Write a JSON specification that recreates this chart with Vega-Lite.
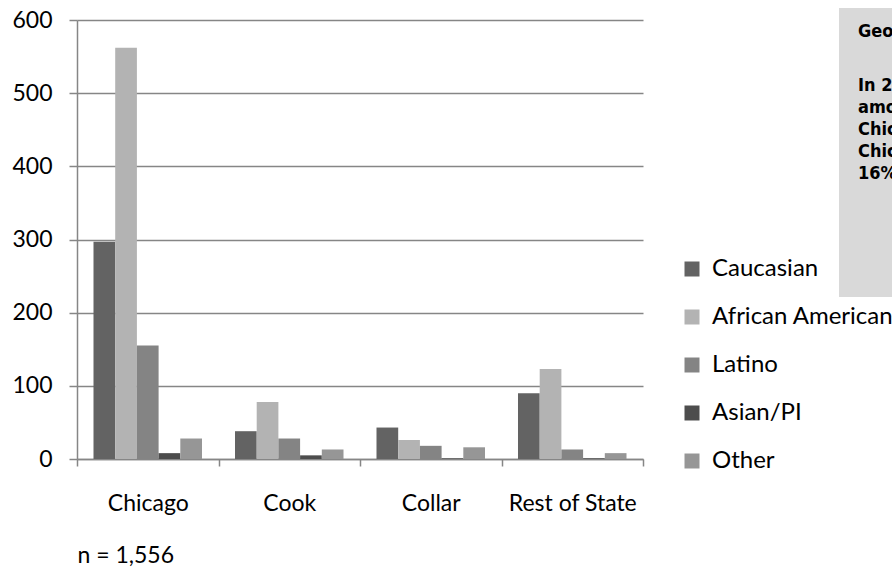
{
  "$schema": "https://vega.github.io/schema/vega-lite/v6.json",
  "padding": {"left": 11, "top": 8, "right": 0, "bottom": 0},
  "background": "white",
  "config": {"view": {"stroke": null}, "font": "Lato"},
  "spacing": 195,
  "hconcat": [
    {
      "width": 566,
      "height": 439,
      "data": {"values": [
        {"region": "Chicago", "race": "Caucasian", "count": 297},
        {"region": "Chicago", "race": "African American", "count": 562},
        {"region": "Chicago", "race": "Latino", "count": 155},
        {"region": "Chicago", "race": "Asian/PI", "count": 8},
        {"region": "Chicago", "race": "Other", "count": 28},
        {"region": "Cook", "race": "Caucasian", "count": 38},
        {"region": "Cook", "race": "African American", "count": 78},
        {"region": "Cook", "race": "Latino", "count": 28},
        {"region": "Cook", "race": "Asian/PI", "count": 5},
        {"region": "Cook", "race": "Other", "count": 13},
        {"region": "Collar", "race": "Caucasian", "count": 43},
        {"region": "Collar", "race": "African American", "count": 26},
        {"region": "Collar", "race": "Latino", "count": 18},
        {"region": "Collar", "race": "Asian/PI", "count": 1},
        {"region": "Collar", "race": "Other", "count": 16},
        {"region": "Rest of State", "race": "Caucasian", "count": 90},
        {"region": "Rest of State", "race": "African American", "count": 123},
        {"region": "Rest of State", "race": "Latino", "count": 13},
        {"region": "Rest of State", "race": "Asian/PI", "count": 1},
        {"region": "Rest of State", "race": "Other", "count": 8}
      ]},
      "mark": {"type": "bar"},
      "encoding": {
        "x": {
          "field": "region", "type": "nominal",
          "sort": ["Chicago", "Cook", "Collar", "Rest of State"],
          "scale": {"paddingInner": 0, "paddingOuter": 0},
          "axis": {
            "title": "n = 1,556",
            "titleFont": "Lato", "titleFontWeight": "normal", "titleFontSize": 23, "titleColor": "#000000",
            "titleAnchor": "start", "titleAlign": "left", "titlePadding": 29,
            "labelAngle": 0, "labelFont": "Lato", "labelFontSize": 23, "labelColor": "#000000", "labelPadding": 26,
            "tickBand": "extent", "tickSize": 7, "tickColor": "#868686", "tickWidth": 1.5,
            "domainColor": "#868686", "domainWidth": 1.5
          }
        },
        "xOffset": {
          "field": "race", "type": "nominal",
          "sort": ["Caucasian", "African American", "Latino", "Asian/PI", "Other"],
          "scale": {"paddingInner": 0, "paddingOuter": 0.76}
        },
        "y": {
          "field": "count", "type": "quantitative",
          "scale": {"domain": [0, 600], "nice": false},
          "axis": {
            "title": null, "values": [0, 100, 200, 300, 400, 500, 600],
            "labelFont": "Lato", "labelFontSize": 23, "labelColor": "#000000", "labelPadding": 17,
            "tickSize": 8, "tickColor": "#868686", "tickWidth": 1.5,
            "domainColor": "#868686", "domainWidth": 1.5,
            "grid": true, "gridColor": "#868686", "gridWidth": 1.5
          }
        },
        "color": {
          "field": "race", "type": "nominal",
          "scale": {
            "domain": ["Caucasian", "African American", "Latino", "Asian/PI", "Other"],
            "range": ["#636363", "#b3b3b3", "#848484", "#4d4d4d", "#969696"]
          },
          "legend": {
            "title": null, "orient": "none", "legendX": 603, "legendY": 237,
            "symbolType": "square", "symbolSize": 225, "symbolStrokeWidth": 0,
            "labelFont": "Lato", "labelFontSize": 24, "labelColor": "#000000", "labelLimit": 0,
            "labelOffset": 8, "rowPadding": 24
          }
        }
      }
    },
    {
      "width": 53,
      "height": 277,
      "view": {"stroke": null},
      "data": {"values": [
        {"line": 1, "kind": "title", "text": "Geography"},
        {"line": 2, "kind": "body", "text": "In 2010,"},
        {"line": 3, "kind": "body", "text": "among"},
        {"line": 4, "kind": "body", "text": "Chicago"},
        {"line": 5, "kind": "body", "text": "Chicago"},
        {"line": 6, "kind": "body", "text": "16%"}
      ]},
      "layer": [
        {
          "mark": {"type": "rect", "color": "#d9d9d9", "clip": false},
          "encoding": {
            "y": {"datum": -1.545, "type": "quantitative",
                  "scale": {"domain": [-1.0, 11.59], "reverse": true, "zero": false, "nice": false},
                  "axis": null},
            "y2": {"datum": 11.59}
          }
        },
        {
          "transform": [{"filter": "datum.kind === 'title'"}],
          "mark": {"type": "text", "align": "left", "baseline": "middle", "dx": -7.5, "dy": -32, "clip": true,
                   "font": "DejaVu Sans Condensed", "fontWeight": "bold", "fontSize": 18, "color": "#000000"},
          "encoding": {
            "y": {"field": "line", "type": "quantitative"},
            "text": {"field": "text"}
          }
        },
        {
          "transform": [{"filter": "datum.kind === 'body'"}],
          "mark": {"type": "text", "align": "left", "baseline": "middle", "dx": -7.5, "clip": true,
                   "font": "DejaVu Sans Condensed", "fontWeight": "bold", "fontSize": 18, "color": "#000000"},
          "encoding": {
            "y": {"field": "line", "type": "quantitative"},
            "text": {"field": "text"}
          }
        }
      ]
    }
  ]
}
